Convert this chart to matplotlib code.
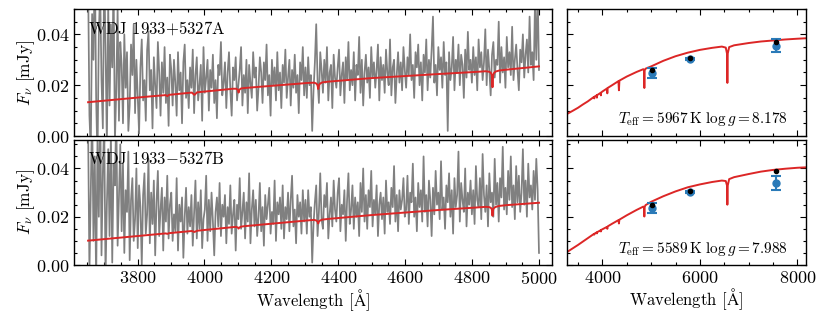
import numpy as np
import matplotlib
matplotlib.use("Agg")
import matplotlib.pyplot as plt
from matplotlib.ticker import MultipleLocator

plt.rcParams.update({
    "font.family": ["cmr10", "DejaVu Serif"],
    "mathtext.fontset": "cm",
    "axes.formatter.use_mathtext": True,
    "axes.unicode_minus": True,
    "font.size": 12,
    "axes.linewidth": 1.0,
    "xtick.direction": "in",
    "ytick.direction": "in",
    "xtick.top": True,
    "ytick.right": True,
    "xtick.major.size": 4,
    "ytick.major.size": 4,
    "xtick.minor.size": 2.4,
    "ytick.minor.size": 2.4,
    "xtick.minor.visible": True,
    "ytick.minor.visible": True,
})

# ---------------- data ----------------
names = ["WDJ 1933$+$5327A", "WDJ 1933$-$5327B"]
teff = [5967, 5589]
logg = [8.178, 7.988]

spec_start, spec_end = 3652, 5000   # Angstrom

# observed spectra, flux in micro-Jy
flux_A_uJy = [
    62, 8, -6, 48, 30, 71, 15, -10, 40, 58, 22, 3, 66, 35, -4, 52, 12, 44, 27, 60, -2, 18, 50, 6, 37,
    28, 5, 40, 19, 33, 2, 12, 36, 24, 44, 9, 30, 16, 1, 27, 38, 14, 22, 6, 34, 41, 18, 26, 3, 31,
    20, 11, 37, 25, 8, 29, 17, 35, 13, 23, 4, 32,
    26, 12, 30, 21, 8, 33, 18, 25, 5, 29, 36, 15, 22, 11, 27, 19, 34, 9, 24, 31,
    14, 20, 28, 6, 35, 17, 23, 30, 10, 26, 19, 32, 13, 22, 7, 28, 24, 37, 16, 21,
    29, 11, 25, 33, 18, 8, 27, 22, 31, 14, 20, 26, 35, 12, 24, 17, 30, 9, 28, 21,
    15, 33, 23, 27, 10, 19, 31, 25, 13, 29, 22, 36, 16, 24, 8, 30, 20, 27, 14, 33,
    18, 25, 11, 28, 21, 34, 15, 23, 30, 12, 26, 19, 32, 17, 24, 9, 29, 22, 35, 16,
    27, 15, 31, 20, 24, 2, 18, 29, 44, 22, 13, 33, 26, 17, 30, 21, 35, 14, 25, 28, 11, 32, 23, 19, 27,
    34, 16, 24, 29, 13, 31, 22, 37, 18, 26, 20, 33, 14, 28, 24, 39, 17, 30, 12, 25,
    32, 21, 27, 15, 35, 23, 29, 19, 26, 36, 14, 31, 22, 28, 17, 34, 25, 20, 38, 16,
    27, 30, 13, 24, 33, 21, 29, 18, 35, 26,
    19, 31, 24, 40, 22, 28, 15, 33, 27, 36, 20, 29, 14, 32, 25, 38, 18, 30, 23, 34,
    47, 21, 28, 16, 35, 26, 31, 19, 37, 24, 29, 2, 33, 22, 27, 39, 18, 30, 25, 36,
    20, 32, 28, 15, 34, 23, 41, 26, 30, 21,
    35, 24, 31, 18, 38, 27, 33, 22, 29, 42, 20, 34, 26, 16, 32, 37, 23, 30, 28, 45,
    21, 35, 25, 31, 19, 39, 27, 33, 24, 43, 22, 30, 36, 26, 18, 34, 29, 40, 23, 32,
    38, 25, 47, 28, 33, 22, 52, 30, 58, 26,
]
flux_B_uJy = [
    58, -3, 30, 66, 10, 45, -8, 52, 20, 70, 4, 38, 60, -5, 25, 48, 12, 55, 1, 42, 33, 64, 8, 28, 50,
    14, 42, 5, 31, 22, 47, 2, 27, 36, 10, 19, 40, 7, 33, 24, 0, 29, 38, 13, 21, 44, 9, 30, 17, 35,
    4, 26, 39, 12, 23, 32, 6, 28, 18, 37, 11, 25,
    30, 10, 21, 14, 36, 6, 25, 18, 28, 3, 20, 32, 13, 24, 16, 29, 8, 22, 35, 11,
    26, 15, 31, 7, 19, 23, 37, 10, 27, 14, 30, 18, 4, 22, 28, 16, 34, 12, 25, 20,
    29, 9, 24, 17, 33, 13, 21, 27, 6, 25, 19, 36, 15, 22, 30, 11, 26, 18, 38, 9,
    23, 31, 16, 27, 12, 20, 34, 14, 24, 8, 29, 19, 25, 32, 13, 22, 17, 35, 10, 26,
    21, 28, 15, 33, 11, 24, 19, 30, 14, 27, 37, 16, 23, 9, 29, 20, 26, 13, 31, 18,
    27, 13, 31, 20, 24, 1, 17, 26, 33, 12, 22, 38, 19, 15, 29, 24, 34, 11, 21, 28, 16, 35, 23, 18, 30,
    36, 14, 25, 21, 31, 10, 27, 38, 17, 23, 33, 15, 28, 20, 26, 12, 34, 22, 40, 18,
    29, 15, 31, 24, 39, 16, 27, 21, 33, 12, 25, 30, 19, 28, 13, 35, 22, 26, 17, 32,
    24, 41, 18, 29, 14, 31, 23, 27, 36, 20,
    23, 37, 17, 30, 26, 42, 20, 28, 14, 34, 24, 31, 18, 45, 22, 29, 16, 35, 27, 12,
    32, 21, 39, 25, 30, 19, 43, 23, 28, 15, 33, 26, 38, 20, 31, 13, 36, 24, 29, 47,
    18, 34, 27, 22, 40, 16, 30, 25, 35, 21,
    31, 17, 41, 27, 24, 36, 19, 46, 29, 22, 33, 16, 38, 26, 30, 20, 44, 25, 34, 18,
    36, 28, 49, 23, 32, 21, 39, 27, 45, 24, 33, 19, 41, 26, 37, 22, 30, 48, 25, 35,
    20, 42, 28, 33, 23, 39, 27, 44, 31, 5,
]

# model fits over the spectral range (mJy)
model_wave = [3652, 3830, 3884, 3889, 3894, 3962, 3970, 3978, 4085, 4095, 4100, 4102, 4104,
              4109, 4120, 4310, 4328, 4335, 4338, 4340, 4342, 4345, 4352, 4370, 4500, 4700,
              4820, 4840, 4851, 4856, 4859, 4861, 4863, 4866, 4871, 4882, 4902, 5000]
model_A = [0.0133, 0.0155, 0.0161, 0.0157, 0.0162, 0.0171, 0.0162, 0.0172, 0.0186, 0.0186,
           0.0182, 0.0171, 0.0182, 0.0187, 0.0189, 0.0209, 0.0210, 0.0206, 0.0199, 0.0185,
           0.0199, 0.0206, 0.0211, 0.0214, 0.0228, 0.0244, 0.0253, 0.0255, 0.0253, 0.0249,
           0.0240, 0.0192, 0.0240, 0.0249, 0.0254, 0.0258, 0.0261, 0.0274]
model_B = [0.0101, 0.0124, 0.0131, 0.0129, 0.0132, 0.0141, 0.0137, 0.0142, 0.0157, 0.0158,
           0.0155, 0.0151, 0.0155, 0.0159, 0.0161, 0.0185, 0.0187, 0.0184, 0.0180, 0.0172,
           0.0180, 0.0184, 0.0188, 0.0191, 0.0207, 0.0228, 0.0239, 0.0241, 0.0240, 0.0237,
           0.0231, 0.0204, 0.0231, 0.0237, 0.0241, 0.0245, 0.0248, 0.0258]

# model SED (mJy)
sed_wave = [3270, 3400, 3500, 3600, 3700, 3800, 3830, 3835, 3840, 3884, 3889, 3894, 3965, 3970,
            3975, 4000, 4095, 4102, 4109, 4200, 4330, 4340, 4350, 4500, 4700, 4840, 4856, 4861,
            4866, 4885, 5000, 5250, 5500, 5750, 6000, 6250, 6450, 6530, 6555, 6563, 6571, 6600,
            6700, 7000, 7250, 7500, 7750, 8000, 8200]
sed_A = [0.0086, 0.0100, 0.0111, 0.0124, 0.0136, 0.0150, 0.0154, 0.0148, 0.0155, 0.0160,
         0.0151, 0.0161, 0.0170, 0.0160, 0.0171, 0.0175, 0.0187, 0.0168, 0.0189, 0.0200,
         0.0216, 0.0180, 0.0218, 0.0234, 0.0252, 0.0263, 0.0258, 0.0189, 0.0258, 0.0265,
         0.0274, 0.0296, 0.0314, 0.0328, 0.0339, 0.0347, 0.0352, 0.0348, 0.0325, 0.0209,
         0.0325, 0.0350, 0.0357, 0.0366, 0.0372, 0.0376, 0.0380, 0.0383, 0.0385]
sed_B = [0.0053, 0.0070, 0.0083, 0.0097, 0.0111, 0.0125, 0.0129, 0.0126, 0.0130, 0.0135,
         0.0131, 0.0136, 0.0144, 0.0139, 0.0145, 0.0148, 0.0158, 0.0150, 0.0160, 0.0171,
         0.0186, 0.0172, 0.0188, 0.0206, 0.0228, 0.0242, 0.0240, 0.0201, 0.0240, 0.0248,
         0.0262, 0.0285, 0.0305, 0.0322, 0.0334, 0.0344, 0.0350, 0.0348, 0.0330, 0.0250,
         0.0330, 0.0356, 0.0364, 0.0377, 0.0387, 0.0394, 0.0399, 0.0403, 0.0405]

# photometry
phot_wave = [5010, 5800, 7570]
phot_A = [0.0248, 0.0304, 0.0356]
phot_A_err = [0.0020, 0.0005, 0.0027]
synth_A = [0.0261, 0.0308, 0.0372]
phot_B = [0.0236, 0.0303, 0.0340]
phot_B_err = [0.0022, 0.0005, 0.0028]
synth_B = [0.0250, 0.0308, 0.0389]

# ---------------- plot ----------------
fig = plt.figure(figsize=(8.30, 3.12), dpi=100)
left_x, left_w = 0.0892, 0.5763
right_x, right_w = 0.6828, 0.2880
rows = [(0.5641, 0.4071), (0.1506, 0.4022)]
ylims = [0.05, 0.052]

red = "#dc2626"
blue = "#2a7ab8"

spectra = [flux_A_uJy, flux_B_uJy]
models = [model_A, model_B]
seds = [sed_A, sed_B]
phots = [(phot_A, phot_A_err, synth_A), (phot_B, phot_B_err, synth_B)]

for r, (yb, h) in enumerate(rows):
    axl = fig.add_axes([left_x, yb, left_w, h])
    axr = fig.add_axes([right_x, yb, right_w, h])

    f = np.array(spectra[r]) / 1000.0
    w = np.linspace(spec_start, spec_end, len(f))
    axl.plot(w, f, color="#808080", lw=1.25)
    axl.plot(model_wave, models[r], color=red, lw=1.4)
    axl.set_xlim(3610, 5040)
    axl.set_ylim(0, ylims[r])
    axl.xaxis.set_major_locator(MultipleLocator(200))
    axl.xaxis.set_minor_locator(MultipleLocator(50))
    axl.yaxis.set_major_locator(MultipleLocator(0.02))
    axl.yaxis.set_minor_locator(MultipleLocator(0.005))
    axl.set_ylabel(r"$F_\nu$ [mJy]", fontsize=12.5, labelpad=-1)
    axl.text(0.03, 0.92, names[r], transform=axl.transAxes, ha="left", va="top",
             fontsize=12)

    axr.plot(sed_wave, seds[r], color=red, lw=1.4)
    p, pe, s = phots[r]
    axr.errorbar(phot_wave, p, yerr=pe, fmt="o", color=blue, ms=5, elinewidth=1.5,
                 capsize=3.5, capthick=1.5, zorder=3)
    axr.plot(phot_wave, s, "o", color="black", ms=3, zorder=4)
    axr.set_xlim(3270, 8170)
    axr.set_ylim(0, ylims[r])
    axr.xaxis.set_major_locator(MultipleLocator(2000))
    axr.xaxis.set_minor_locator(MultipleLocator(500))
    axr.yaxis.set_major_locator(MultipleLocator(0.02))
    axr.yaxis.set_minor_locator(MultipleLocator(0.005))
    axr.tick_params(labelleft=False)
    axr.text(0.925, 0.13,
             r"$T_{\rm eff}=%d\,{\rm K}\ \log g=%.3f$" % (teff[r], logg[r]),
             transform=axr.transAxes, ha="right", va="center", fontsize=11)

    for ax in (axl, axr):
        ax.tick_params(which="both", width=0.8, labelsize=13)
    if r == 0:
        axl.tick_params(labelbottom=False)
        axr.tick_params(labelbottom=False)
    else:
        axl.set_xlabel(r"Wavelength [$\mathrm{\AA}$]", fontsize=12, labelpad=0)
        axr.set_xlabel(r"Wavelength [$\mathrm{\AA}$]", fontsize=12, labelpad=0)

fig.savefig("out.png", dpi=100)
